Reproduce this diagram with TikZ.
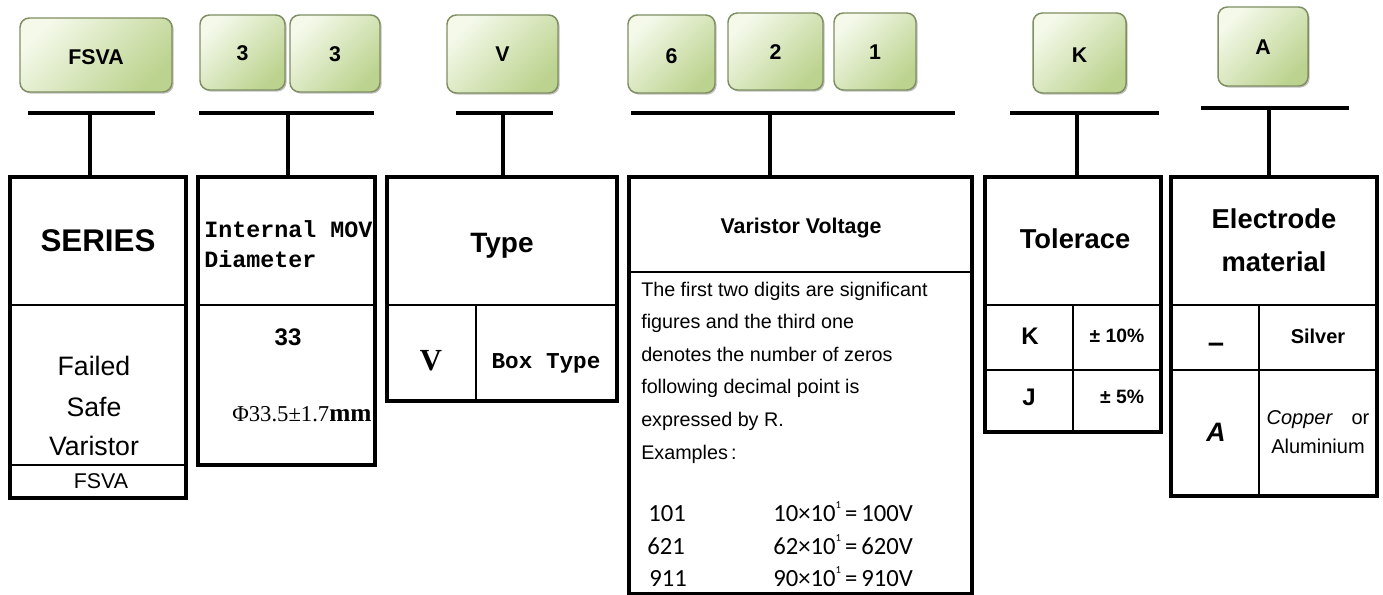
\documentclass[tikz,border=0pt]{standalone}
\usepackage{fontspec}
\setmainfont{Liberation Sans}
\newfontfamily\monof{Liberation Mono}
\newfontfamily\seriff{Liberation Serif}
\newfontfamily\carlf{Carlito}
\usetikzlibrary{fit,shadows}
\newcommand\fsz[1]{\fontsize{#1}{#1}\selectfont}
\definecolor{bglight}{HTML}{F4F9EA}
\definecolor{bgdark}{HTML}{BCD38F}
\definecolor{bedge}{HTML}{7F8F62}
\tikzset{
  badge/.style={rounded corners=7pt, draw=bedge, line width=1.1pt,
    top color=bglight, bottom color=bgdark, shading angle=45,
    drop shadow={shadow xshift=1.2pt, shadow yshift=-1.2pt, opacity=0.35, fill=black!70},
    inner sep=0pt},
  btxt/.style={inner sep=0pt, node font=\fsz{16pt}\bfseries, text height=0.72em, text depth=0pt},
  colbox/.style={draw, line width=2.3pt, inner sep=0pt},
  bar/.style={line width=3.6pt},
  stem/.style={line width=2.8pt},
  divider/.style={line width=2pt},
  thin/.style={line width=1.3pt},
  txt/.style={inner sep=0pt, text height=0.72em, text depth=0pt},
}
\begin{document}
\begin{tikzpicture}[x=0.75pt, y=-0.75pt]
\useasboundingbox (0,0) rectangle (1383,595);
\fill[white] (0,0) rectangle (1383,595);

% ---------- badges ----------
\node[badge, fit={(20,18) (172,92)}] (bFSVA) {};
\node[badge, fit={(200,15) (285,90)}] (b3a) {};
\node[badge, fit={(290,15) (380,92)}] (b3b) {};
\node[badge, fit={(447,15) (558,93)}] (bV) {};
\node[badge, fit={(628,15) (715,93)}] (b6) {};
\node[badge, fit={(728,13) (823,90)}] (b2) {};
\node[badge, fit={(834,13) (916,90)}] (b1) {};
\node[badge, fit={(1033,13) (1126,93)}] (bK) {};
\node[badge, fit={(1218,7) (1308,86)}] (bA) {};
\node[btxt] (lFSVA) at ([yshift=-1.5pt]bFSVA.center) {FSVA};
\node[btxt] (l3a) at (b3a.center) {3};
\node[btxt] (l3b) at (b3b.center) {3};
\node[btxt] (lV) at (bV.center) {V};
\node[btxt] (l6) at ([yshift=-1.5pt]b6.center) {6};
\node[btxt] (l2) at (b2.center) {2};
\node[btxt] (l1) at (b1.center) {1};
\node[btxt] (lK) at ([yshift=-1.5pt]bK.center) {K};
\node[btxt] (lA) at (bA.center) {A};

% ---------- column boxes ----------
\node[colbox, fit={(10,177) (186,498)}] (c1) {};
\node[colbox, fit={(198,177) (375,465)}] (c2) {};
\node[colbox, fit={(387,177) (617,401)}] (c3) {};
\node[colbox, fit={(629,177) (972,594)}] (c4) {};
\node[colbox, fit={(985,177) (1161,432)}] (c5) {};
\node[colbox, fit={(1171,177) (1377,496)}] (c6) {};

% ---------- bars and stems ----------
\coordinate (h1a) at (28,113);  \coordinate (h1b) at (155,113); \coordinate (h1m) at (90,113);
\coordinate (h2a) at (199,113); \coordinate (h2b) at (374,113); \coordinate (h2m) at (288,113);
\coordinate (h3a) at (456,113); \coordinate (h3b) at (553,113); \coordinate (h3m) at (503,113);
\coordinate (h4a) at (631,113); \coordinate (h4b) at (955,113); \coordinate (h4m) at (770,113);
\coordinate (h5a) at (1010,113); \coordinate (h5b) at (1159,113); \coordinate (h5m) at (1077,113);
\coordinate (h6a) at (1201,108); \coordinate (h6b) at (1349,108); \coordinate (h6m) at (1269,108);
\foreach \i/\c in {1/c1,2/c2,3/c3,4/c4,5/c5,6/c6}{
  \draw[bar] (h\i a) -- (h\i b);
  \draw[stem] (h\i m) -- (h\i m |- \c.north);
}

% ---------- dividers ----------
\draw[divider] (10,305) -- (186,305);
\draw[divider] (10,465) -- (186,465);
\draw[divider] (198,305) -- (375,305);
\draw[divider] (387,305) -- (617,305);
\draw[thin] (476,305) -- (476,401);
\draw[divider] (629,272) -- (972,272);
\draw[divider] (985,305) -- (1161,305);
\draw[thin] (985,370) -- (1161,370);
\draw[thin] (1073,305) -- (1073,432);
\draw[divider] (1171,305) -- (1377,305);
\draw[thin] (1171,370) -- (1377,370);
\draw[thin] (1259,305) -- (1259,496);

% ---------- column 1 ----------
\node[txt, node font=\fsz{23.5pt}\bfseries] (t1h) at (98,240) {SERIES};
\node[txt, node font=\fsz{20pt}] (t1a) at (94,366) {Failed};
\node[txt, node font=\fsz{20pt}] (t1b) at (94,407) {Safe};
\node[txt, node font=\fsz{20pt}] (t1c) at (94,446) {Varistor};
\node[txt, node font=\fsz{16pt}] (t1d) at (101,481) {FSVA};

% ---------- column 2 ----------
\node[txt, anchor=west, node font=\fsz{17.5pt}\monof\bfseries] (t2a) at (204,229) {Internal MOV};
\node[txt, anchor=west, node font=\fsz{17.5pt}\monof\bfseries] (t2b) at (204,259) {Diameter};
\node[txt, node font=\fsz{18pt}\bfseries] (t2c) at (288,337) {33};
\node[txt, anchor=west, node font=\fsz{17pt}\seriff] (t2d) at (232,413) {Φ33.5±1.7\fsz{19pt}\bfseries mm};

% ---------- column 3 ----------
\node[txt, node font=\fsz{21pt}\bfseries] (t3h) at (502,242) {Type};
\node[txt, node font=\fsz{23pt}\seriff\bfseries] (t3a) at (431,359) {V};
\node[txt, node font=\fsz{17pt}\monof\bfseries] (t3b) at (546,360) {Box Type};

% ---------- column 4 ----------
\node[txt, node font=\fsz{16pt}\bfseries] (t4h) at (801,226) {Varistor Voltage};
\begin{scope}
\clip (629,272) rectangle (970,594);
\foreach \s/\yy in {The first two digits are significant/289, figures and the third one/321.6,
  denotes the number of zeros/354.2, following decimal point is/386.8,
  expressed by R./419.4}{
  \node[txt, anchor=west, node font=\fsz{14.8pt}] at (641,\yy) {\s};
}
\end{scope}
\node[txt, anchor=west, node font=\fsz{14.8pt}] (t4e) at (641,452) {Examples\,:};
\newcommand\supone{\raisebox{0.55em}{\fsz{8pt}1}}
\node[txt, anchor=west, node font=\fsz{18.5pt}\carlf] (t4r1a) at (648,513) {101};
\node[txt, anchor=west, node font=\fsz{18.5pt}\carlf] (t4r2a) at (647,546) {621};
\node[txt, anchor=west, node font=\fsz{18.5pt}\carlf] (t4r3a) at (649,578) {911};
\node[txt, anchor=west, node font=\fsz{18.5pt}\carlf] (t4r1b) at (773,513) {10×10\supone\,=\,100V};
\node[txt, anchor=west, node font=\fsz{18.5pt}\carlf] (t4r2b) at (773,546) {62×10\supone\,=\,620V};
\node[txt, anchor=west, node font=\fsz{18.5pt}\carlf] (t4r3b) at (773,578) {90×10\supone\,=\,910V};

% ---------- column 5 ----------
\node[txt, node font=\fsz{20.5pt}\bfseries] (t5h) at (1075,239) {Tolerace};
\node[txt, node font=\fsz{18pt}\bfseries] (t5a) at (1030,336) {K};
\node[txt, node font=\fsz{14.5pt}\bfseries] (t5b) at (1117,336) {± 10\%};
\node[txt, node font=\fsz{18pt}\bfseries] (t5c) at (1029,397) {J};
\node[txt, node font=\fsz{14.5pt}\bfseries] (t5d) at (1122,397) {± 5\%};

% ---------- column 6 ----------
\node[txt, node font=\fsz{20.5pt}\bfseries] (t6h1) at (1274,219) {Electrode};
\node[txt, node font=\fsz{20.5pt}\bfseries] (t6h2) at (1274,262) {material};
\node[txt, node font=\fsz{22pt}\bfseries] (t6a) at (1216,342) {–};
\node[txt, node font=\fsz{15pt}\bfseries] (t6b) at (1318,336) {Silver};
\node[txt, node font=\fsz{20pt}\bfseries\itshape] (t6c) at (1216,432) {A};
\node[txt, node font=\fsz{15pt}] (t6d) at (1318,417) {\textit{Copper}\hspace{14pt}or};
\node[txt, node font=\fsz{15pt}] (t6e) at (1318,446) {Aluminium};
\end{tikzpicture}
\end{document}
